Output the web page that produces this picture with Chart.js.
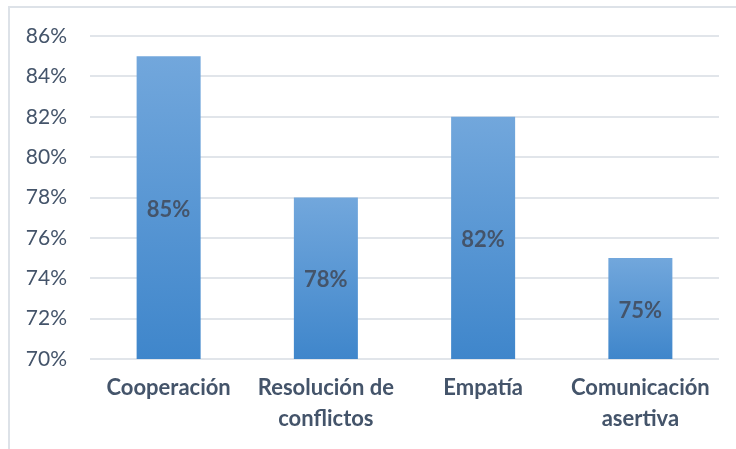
<!DOCTYPE html>
<html>
<head>
<meta charset="utf-8">
<script src="https://cdn.jsdelivr.net/npm/chart.js@4/dist/chart.umd.min.js"></script>
<style>
    body { margin: 0; background: #fff; }
    #wrap { position: relative; width: 736px; height: 449px; }
    #frame { position: absolute; left: 8px; top: 6px; right: 0; bottom: 0;
             border-top: 2px solid #dde2e8; border-left: 2px solid #dde2e8; }
    canvas { position: absolute; left: 0; top: 0; }
</style>
</head>
<body>
<div id="wrap">
    <div id="frame"></div>
    <canvas id="skillChart" width="736" height="449"></canvas>
</div>
<script>
var categories = [['Cooperación'], ['Resolución de', 'conflictos'], ['Empatía'], ['Comunicación', 'asertiva']];
var values = [85, 78, 82, 75];
var yMin = 70;
var yMax = 86;
var yStep = 2;

var textColor = '#44546a';

// gradient per bar, lighter at the top
var barFill = function (ctx) {
    var chart = ctx.chart;
    if (!chart.chartArea || ctx.dataIndex === undefined) return '#5b9bd5';
    var y = chart.scales.y;
    var top = y.getPixelForValue(ctx.raw);
    var bottom = y.getPixelForValue(yMin);
    var g = chart.ctx.createLinearGradient(0, top, 0, bottom);
    g.addColorStop(0, '#72a7dc');
    g.addColorStop(1, '#3f86cb');
    return g;
};

var valueLabels = {
    id: 'valueLabels',
    afterDraw: function (chart) {
        var ctx = chart.ctx;
        var yScale = chart.scales.y;
        var xScale = chart.scales.x;
        ctx.save();
        ctx.font = 'bold 22px Lato, sans-serif';
        ctx.fillStyle = textColor;
        ctx.textAlign = 'center';
        ctx.textBaseline = 'middle';
        values.forEach(function (v, i) {
            var top = yScale.getPixelForValue(v);
            var base = yScale.getPixelForValue(yMin);
            ctx.fillText(v + '%', xScale.getPixelForValue(i), (top + base) / 2 + 2);
        });
        ctx.restore();
    }
};

new Chart('skillChart', {
    type: 'bar',
    data: {
        labels: categories,
        datasets: [{
            data: values,
            backgroundColor: barFill,
            categoryPercentage: 1,
            barPercentage: 0.407
        }]
    },
    options: {
        responsive: false,
        animation: false,
        layout: { padding: { top: 36, right: 17, left: 0, bottom: 0 } },
        plugins: { legend: { display: false }, tooltip: { enabled: false } },
        scales: {
            x: {
                grid: { display: false, drawTicks: false },
                border: { display: false },
                ticks: {
                    color: textColor,
                    padding: 14,
                    font: { family: 'Lato', size: 22, weight: 'bold', lineHeight: 1.38 },
                    maxRotation: 0
                },
                afterFit: function (scale) { scale.height = 90; }
            },
            y: {
                min: yMin,
                max: yMax,
                grid: { color: '#e1e5ea', lineWidth: 2, drawTicks: false },
                border: { display: false },
                ticks: {
                    stepSize: yStep,
                    color: textColor,
                    padding: 23,
                    font: { family: 'Lato', size: 21 },
                    callback: function (v) { return v + '%'; }
                },
                afterFit: function (scale) { scale.width = 90; }
            }
        }
    },
    plugins: [valueLabels]
});
</script>
</body>
</html>
